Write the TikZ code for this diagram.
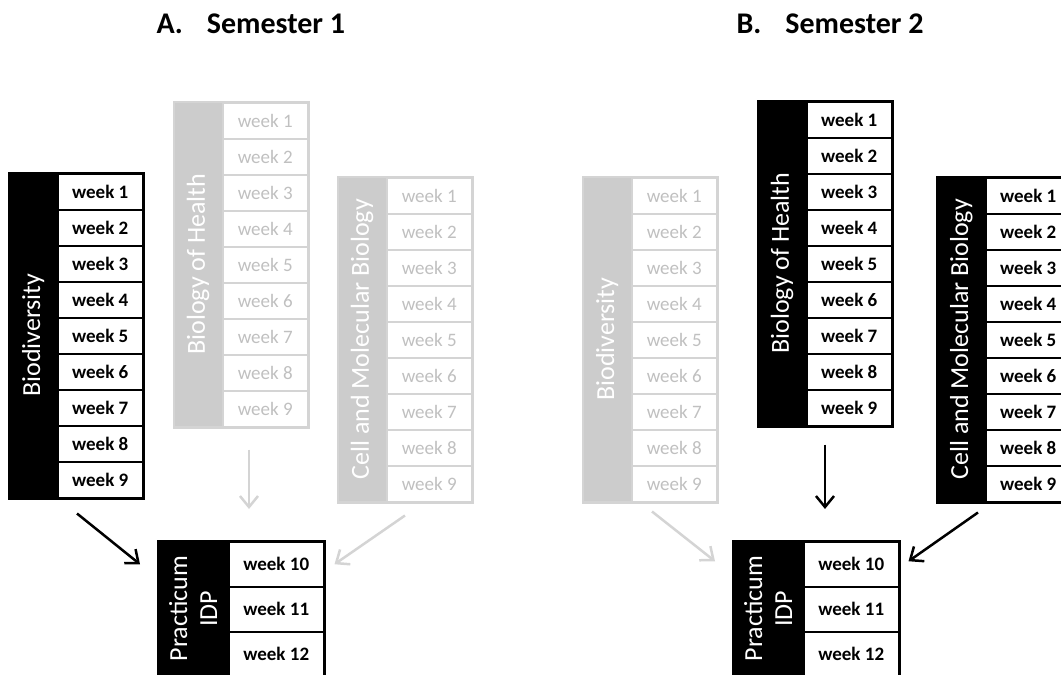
\documentclass[tikz,border=0pt]{standalone}
\usepackage{fontspec}
\setmainfont{Carlito}
\usetikzlibrary{arrows.meta}
\definecolor{offfill}{RGB}{204,204,204}
\definecolor{offline}{RGB}{212,212,212}
\definecolor{offtext}{RGB}{192,192,192}
\newcommand{\wkfont}{\fontsize{19}{22}\selectfont}
\newcommand{\labfont}{\fontsize{26}{30}\selectfont}
\newcommand{\titlefont}{\fontsize{30}{36}\selectfont\bfseries}
\newcommand{\course}[5]{%
  \node[#5lab, anchor=north east] (#1) at (#2,#3) {#4};
  \foreach \i in {1,...,9}
    \node[#5wk, anchor=north west] (#1-\i) at ({#2+48},{#3+(\i-1)*36}) {week \i};
  \draw[#5frame] (#2,#3) rectangle (#1-9.south east);
}

\begin{document}
\begin{tikzpicture}[x=1pt,y=-1pt,
    onlab/.style={rotate=90, fill=black, text=white, inner sep=0pt,
                  minimum width=324pt, minimum height=48pt, font=\labfont},
    offlab/.style={onlab, fill=offfill},
    onwk/.style={draw=black, line width=1.5pt, fill=white, inner sep=0pt,
                 minimum width=85pt, minimum height=36pt, font=\wkfont\bfseries},
    offwk/.style={onwk, draw=offline, text=offtext, font=\wkfont},
    pwk/.style={onwk, minimum width=95pt, minimum height=45pt},
    onframe/.style={draw=black, line width=2.5pt},
    offframe/.style={draw=offline, line width=2.5pt},
    onarr/.style={line width=2.5pt, -{Straight Barb[length=11pt,width=18pt]}},
    offarr/.style={onarr, draw=offline}]
\useasboundingbox (0,0) rectangle (1061,675);

\node[font=\titlefont, anchor=base west] (titleA) at (153,33) {A.\hspace{24pt}Semester 1};
\node[font=\titlefont, anchor=base west] (titleB) at (733,33) {B.\hspace{24pt}Semester 2};

\course{bioA}{9}{173}{Biodiversity}{on}
\course{bohA}{174}{102}{Biology of Health}{off}
\course{cmbA}{338}{177}{Cell and Molecular Biology}{off}
\course{bioB}{583}{177}{Biodiversity}{off}
\course{bohB}{758}{101}{Biology of Health}{on}
\course{cmbB}{937}{177}{Cell and Molecular Biology}{on}

\node[onlab, minimum width=135pt, minimum height=70pt, align=center, anchor=north east] (pA) at (158,541) {Practicum\\IDP};
\foreach \i/\j in {10/0,11/1,12/2}
  \node[pwk, anchor=north west] (pA-\i) at (228,{541+\j*45}) {week \i};
\draw[onframe] (158,541) rectangle (pA-12.south east);

\node[onlab, minimum width=135pt, minimum height=70pt, align=center, anchor=north east] (pB) at (733,541) {Practicum\\IDP};
\foreach \i/\j in {10/0,11/1,12/2}
  \node[pwk, anchor=north west] (pB-\i) at (803,{541+\j*45}) {week \i};
\draw[onframe] (733,541) rectangle (pB-12.south east);

\draw[onarr] ([shift={(20,15)}]bioA-9.south west) -- ([shift={(-88,0)}]pA-10.west);
\draw[offarr] ([shift={(27,22)}]bohA-9.south west) -- ([shift={(21,-32)}]pA-10.north west);
\draw[offarr] ([shift={(19,13)}]cmbA-9.south west) -- ([shift={(10,0)}]pA-10.east);
\draw[offarr] ([shift={(21,9)}]bioB-9.south west) -- ([shift={(-88,-3)}]pB-10.west);
\draw[onarr] ([shift={(19,18)}]bohB-9.south west) -- ([shift={(22,-32)}]pB-10.north west);
\draw[onarr] ([shift={(-7,10)}]cmbB-9.south west) -- ([shift={(9,-3)}]pB-10.east);
\end{tikzpicture}
\end{document}
